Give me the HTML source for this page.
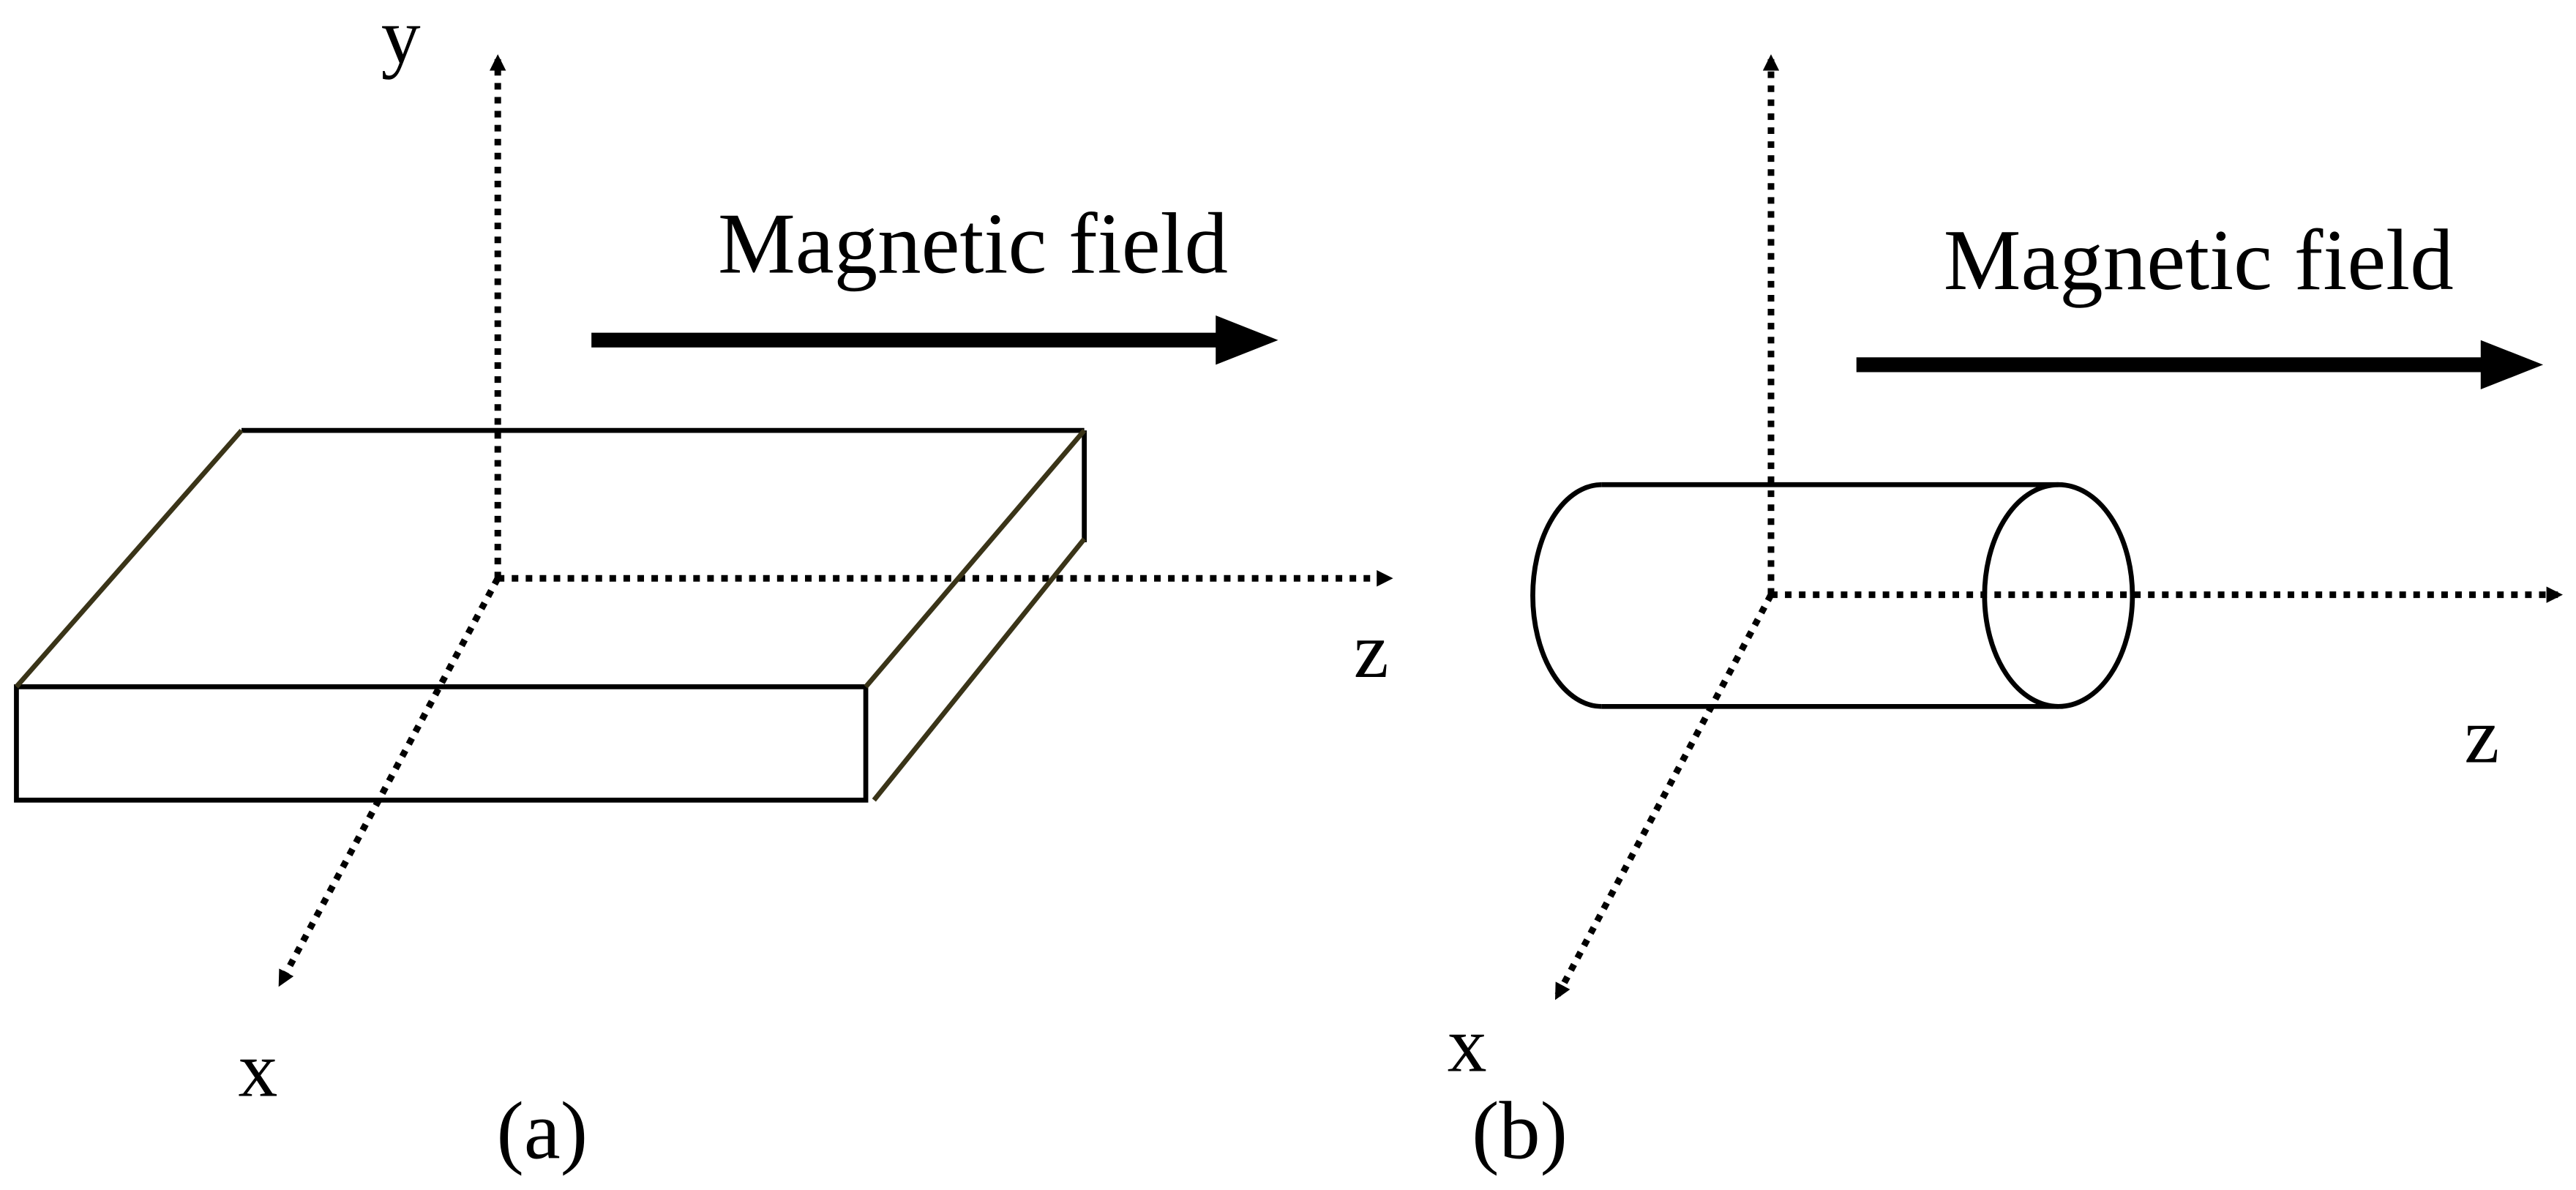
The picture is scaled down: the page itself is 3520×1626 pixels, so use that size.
<!DOCTYPE html>
<html><head><style>
html,body{margin:0;padding:0;background:#fff;}
svg{display:block;}
text{font-family:"Liberation Serif",serif;fill:#000;}
</style></head><body>
<svg width="3520" height="1626" viewBox="0 0 1568 724.3" preserveAspectRatio="none" xmlns="http://www.w3.org/2000/svg">
<defs>
<marker id="ah" markerWidth="10" markerHeight="10" refX="7" refY="5" orient="auto" markerUnits="userSpaceOnUse">
<path d="M0,0 L10,5 L0,10 Z" fill="#000"/>
</marker>
</defs>
<!-- Panel (a) -->
<g stroke="#000" stroke-width="4" stroke-dasharray="4,4.5" fill="none">
<line x1="303" y1="352" x2="303" y2="36" marker-end="url(#ah)"/>
<line x1="303" y1="352" x2="845" y2="352" marker-end="url(#ah)"/>
<line x1="303" y1="352" x2="171" y2="598" marker-end="url(#ah)"/>
</g>
<text x="232" y="38" font-size="48">y</text>
<text x="824" y="412" font-size="48">z</text>
<text x="145" y="667" font-size="48">x</text>
<text x="437" y="166" font-size="53">Magnetic field</text>
<line x1="360" y1="207" x2="745" y2="207" stroke="#000" stroke-width="9"/>
<path d="M740,192 L778,207 L740,222 Z" fill="#000"/>
<g stroke="#000" stroke-width="3" fill="none">
<line x1="147" y1="262" x2="660" y2="262"/>
<line x1="660" y1="262" x2="660" y2="330"/>
<rect x="10" y="418" width="517" height="69"/>
</g>
<g stroke="#3a3418" stroke-width="3" fill="none">
<line x1="147" y1="262" x2="10" y2="418"/>
<line x1="660" y1="262" x2="527" y2="418"/>
<line x1="660" y1="328" x2="532" y2="487"/>
</g>
<text x="330" y="705" font-size="50" text-anchor="middle">(a)</text>
<!-- Panel (b) -->
<g stroke="#000" stroke-width="4" stroke-dasharray="4,4.5" fill="none">
<line x1="1078" y1="362" x2="1078" y2="36" marker-end="url(#ah)"/>
<line x1="1078" y1="362" x2="1557" y2="362" marker-end="url(#ah)"/>
<line x1="1078" y1="362" x2="948" y2="606" marker-end="url(#ah)"/>
</g>
<text x="1500" y="464" font-size="48">z</text>
<text x="881" y="652" font-size="48">x</text>
<text x="1183" y="176" font-size="53">Magnetic field</text>
<line x1="1130" y1="222" x2="1515" y2="222" stroke="#000" stroke-width="9"/>
<path d="M1510,207 L1548,222 L1510,237 Z" fill="#000"/>
<g stroke="#000" stroke-width="3" fill="none">
<line x1="975" y1="295" x2="1253" y2="295"/>
<line x1="975" y1="430" x2="1253" y2="430"/>
<path d="M975,295 A42,67.5 0 0 0 975,430"/>
<ellipse cx="1253" cy="362.5" rx="45" ry="67.5"/>
</g>
<text x="925" y="705" font-size="50" text-anchor="middle">(b)</text>
</svg>
</body></html>
